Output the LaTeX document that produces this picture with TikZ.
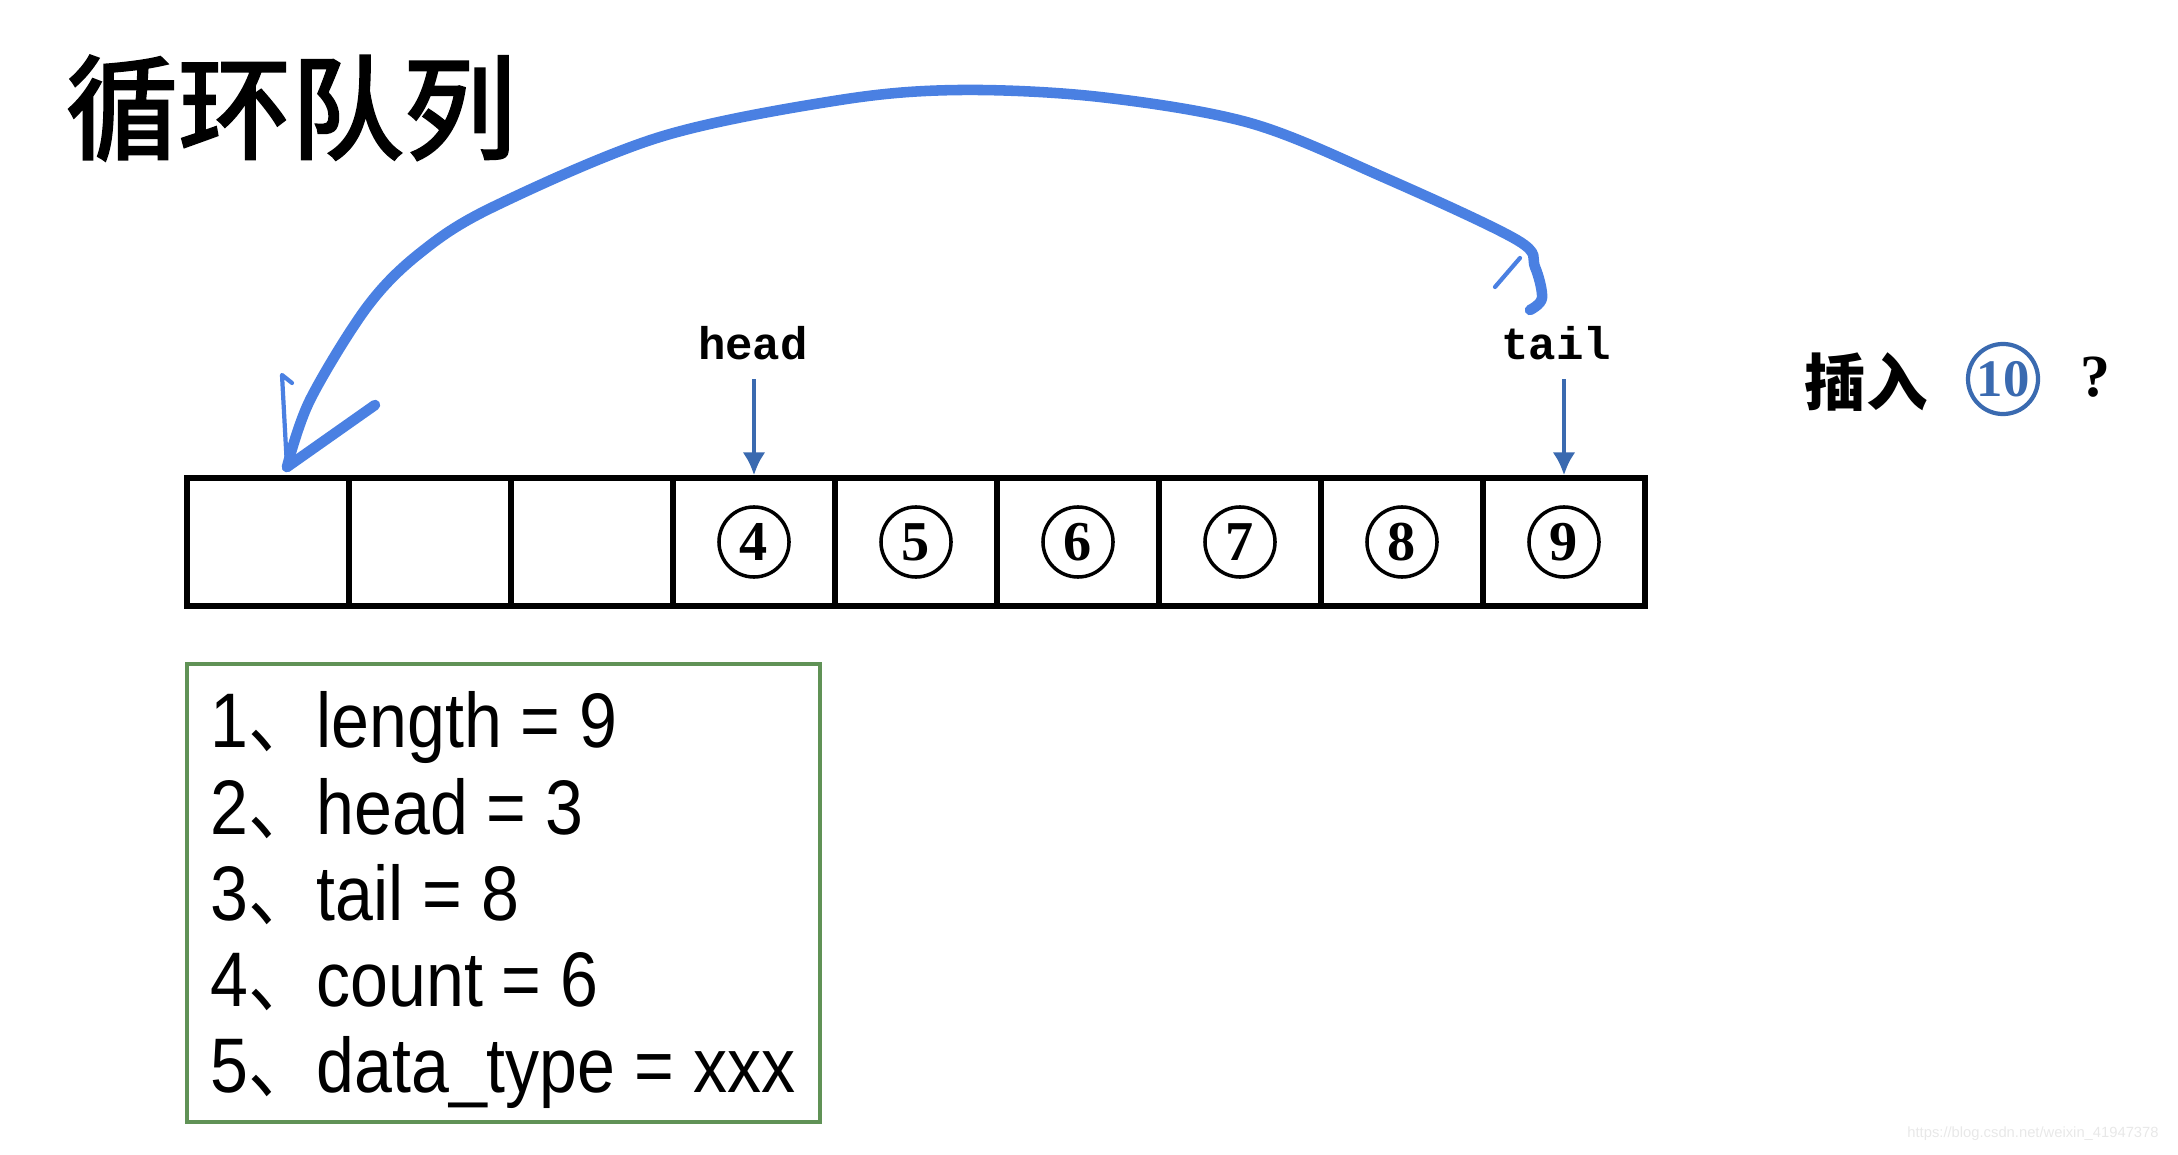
\documentclass[tikz,border=0pt]{standalone}
\usepackage{fontspec}
\usepackage{xcolor}
\usetikzlibrary{arrows.meta}
\setmainfont{Liberation Serif}
\newfontfamily\cjk{Noto Sans CJK SC}
\newfontfamily\titlefont[FakeBold=2.5]{Noto Sans CJK SC}
\newfontfamily\codefont{Liberation Mono}
\newfontfamily\listfont{Liberation Sans}
\newfontfamily\wmfont{Liberation Sans}

\definecolor{handblue}{RGB}{74,128,226}
\definecolor{ptrblue}{RGB}{58,106,176}
\definecolor{boxgreen}{RGB}{96,146,86}

\tikzset{
  cell/.style={draw, line width=1.5pt, minimum width=1.62cm, minimum height=1.28cm, inner sep=0pt},
  circnum/.style={circle, draw, line width=1pt, minimum size=0.70cm, inner sep=0pt, font=\bfseries\fontsize{16}{16}\selectfont},
  ptr/.style={-{Latex[length=6.5pt,width=6.5pt]}, line width=1.4pt, ptrblue},
  lbl/.style={font=\codefont\bfseries\fontsize{13}{13}\selectfont},
  hand/.style={handblue, line width=3pt, line cap=round, line join=round},
  item/.style={anchor=base west, inner sep=0pt, xscale=0.88, font=\listfont\fontsize{22}{22}\selectfont},
  infobox/.style={draw=boxgreen, line width=1.3pt, minimum width=6.33cm, minimum height=4.58cm}
}

\begin{document}
\begin{tikzpicture}[x=0.01cm, y=-0.01cm]
    \useasboundingbox (0,0) rectangle (2178,1155);

    % title
    \node[font=\titlefont\fontsize{32}{32}\selectfont] (title) at (291,108) {循环队列};

    % the array
    \foreach \i in {1,...,9}
        \node[cell] (c\i) at ({187+(\i-0.5)*162}, 542) {};
    \foreach \i in {4,...,9}
        \node[circnum] (n\i) at (c\i) {\i};

    % head and tail pointers
    \node[lbl] (head) at (753,343) {head};
    \node[lbl] (tail) at (1556,343) {tail};
    \draw[ptr, shorten <=2pt] (head.south -| c4.north) -- (c4.north);
    \draw[ptr, shorten <=2pt] (tail.south -| c9.north) -- (c9.north);

    % wrap around stroke
    \coordinate (wrapstart) at (1530,310);
    \coordinate (wraptip) at (287,467);
    \draw[hand] plot[smooth, tension=0.55] coordinates {(1530,310) (1542,298) (1535,267) (1517,240) (1383,177) (1250,123) (1100,97) (960,90) (840,100) (660,137) (493,207) (420,253) (367,307) (310,400) (287,467)};
    \draw[hand] (wraptip) -- (375,405);
    \draw[hand, line width=1.2pt] (wraptip) -- (282,375) -- (292,383);
    \draw[hand, line width=1.2pt] (1520,258) -- (1495,287);

    % insert 10 ?
    \node[font=\cjk\bfseries\fontsize{17.5}{18}\selectfont] (insert) at (1866,382) {插入};
    \node[circnum, draw=ptrblue, text=ptrblue, line width=1.2pt, font=\bfseries\fontsize{15}{15}\selectfont] (ten) at (2003,379) {10};
    \node[font=\bfseries\fontsize{17}{17}\selectfont] (qmark) at (2095,377) {?};

    % info box
    \node[infobox] (info) at (503.5,893) {};
    \node[item] (l1) at (210,748) {1{\cjk 、}length = 9};
    \node[item] (l2) at (210,834) {2{\cjk 、}head = 3};
    \node[item] (l3) at (210,920) {3{\cjk 、}tail = 8};
    \node[item] (l4) at (210,1006) {4{\cjk 、}count = 6};
    \node[item] (l5) at (210,1092) {5{\cjk 、}data\_type = xxx};

    % watermark
    \node[font=\wmfont\fontsize{4.2}{5}\selectfont, text=black!9] (mark) at (2033,1134) {https://blog.csdn.net/weixin\_41947378};
\end{tikzpicture}
\end{document}
